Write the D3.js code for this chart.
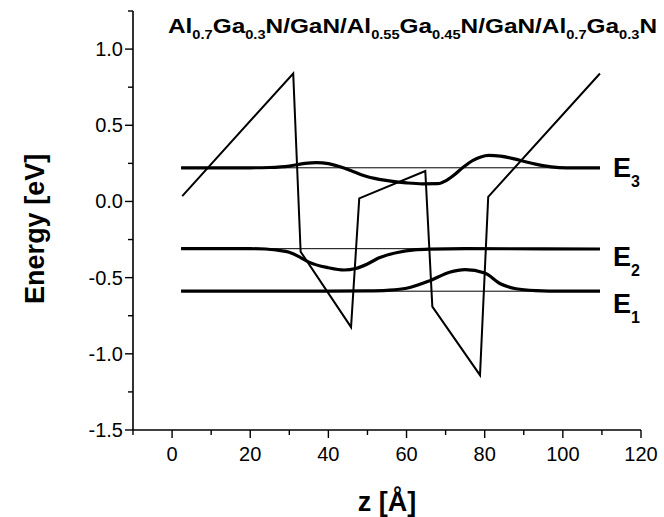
<!DOCTYPE html>
<html>
<head>
<meta charset="utf-8">
<script src="https://cdn.jsdelivr.net/npm/d3@7"></script>
<style>
  body { margin: 0; background: #fff; }
  text { font-family: "Liberation Sans", Arial, sans-serif; }
</style>
</head>
<body>
<div id="chart"></div>
<script>
// conduction band profile (z in Angstrom, energy in eV)
var bandZ = [2.6, 31.0, 32.9, 45.8, 47.9, 64.8, 66.6, 78.8, 80.9, 109.5];
var bandE = [0.035, 0.84, -0.33, -0.825, 0.02, 0.20, -0.69, -1.14, 0.03, 0.84];

// subband energies (thin lines)
var levelNames = ["3", "2", "1"];
var levelE = [0.221, -0.31, -0.589];
var levelRange = [2.3, 109.5];

// wavefunctions drawn on top of the levels
var psi3Z = [2.3, 20, 25, 30, 34, 37, 40, 43, 46, 49, 53, 56, 60, 64, 68, 70, 72, 74.5, 77, 79, 81, 84, 89, 93, 97, 101, 109.5];
var psi3E = [0.221, 0.221, 0.223, 0.232, 0.25, 0.255, 0.248, 0.228, 0.2, 0.17, 0.145, 0.133, 0.122, 0.116, 0.117, 0.135, 0.17, 0.225, 0.27, 0.292, 0.302, 0.298, 0.27, 0.245, 0.227, 0.221, 0.221];
var psi2Z = [2.3, 20, 24, 27, 30, 33, 35, 40, 44, 47, 50, 53, 58, 62, 66, 75, 109.5];
var psi2E = [-0.31, -0.31, -0.312, -0.32, -0.333, -0.37, -0.398, -0.435, -0.45, -0.44, -0.41, -0.37, -0.333, -0.318, -0.313, -0.31, -0.312];
var psi1Z = [2.3, 40, 50, 55, 60, 66, 71, 75, 80, 84, 88, 93, 100, 109.5];
var psi1E = [-0.589, -0.589, -0.587, -0.583, -0.57, -0.52, -0.465, -0.448, -0.47, -0.54, -0.573, -0.585, -0.589, -0.589];

var xTicks = [0, 20, 40, 60, 80, 100, 120];
var yTicks = [-1.5, -1.0, -0.5, 0.0, 0.5, 1.0];

var width = 664, height = 517;

var svg = d3.select("#chart").append("svg")
    .attr("width", width)
    .attr("height", height);

var x = d3.scaleLinear().domain([-10, 120]).range([133, 641]);
var y = d3.scaleLinear().domain([-1.5, 1.25]).range([430, 11]);

// axes
var xAxis = svg.append("g").attr("transform", "translate(0," + y(-1.5) + ")");
xAxis.append("line").attr("x1", x(-10)).attr("x2", x(120)).attr("stroke", "#000").attr("stroke-width", 1.6);
xAxis.selectAll(".minor").data(d3.range(-10, 121, 10)).enter().append("line")
    .attr("x1", d => x(d)).attr("x2", d => x(d))
    .attr("y1", 0).attr("y2", d => (d % 20 === 0) ? 8 : 5)
    .attr("stroke", "#000").attr("stroke-width", 1.4);
xAxis.selectAll(".lbl").data(xTicks).enter().append("text")
    .attr("x", d => x(d)).attr("y", 31)
    .attr("text-anchor", "middle")
    .style("font-size", "20px")
    .text(d => d);

var yAxis = svg.append("g").attr("transform", "translate(" + x(-10) + ",0)");
yAxis.append("line").attr("y1", y(-1.5)).attr("y2", y(1.25)).attr("stroke", "#000").attr("stroke-width", 1.6);
yAxis.selectAll(".minor").data(d3.range(-1.5, 1.26, 0.25)).enter().append("line")
    .attr("y1", d => y(d)).attr("y2", d => y(d))
    .attr("x1", 0).attr("x2", d => (Math.abs(d * 2 - Math.round(d * 2)) < 1e-6) ? -8 : -5)
    .attr("stroke", "#000").attr("stroke-width", 1.4);
yAxis.selectAll(".lbl").data(yTicks).enter().append("text")
    .attr("x", -10).attr("y", d => y(d) + 7)
    .attr("text-anchor", "end")
    .style("font-size", "20px")
    .text(d => d3.format(".1f")(d).replace("\u2212", "-"));

// axis titles
svg.append("text")
    .attr("x", (x(-10) + x(120)) / 2).attr("y", 511)
    .attr("text-anchor", "middle")
    .style("font-size", "27px").style("font-weight", "bold")
    .text("z [\u00c5]");
svg.append("text")
    .attr("transform", "translate(44," + y(-0.18) + ") rotate(-90)")
    .attr("text-anchor", "middle")
    .style("font-size", "27px").style("font-weight", "bold")
    .text("Energy [eV]");

// title with subscripts
var titleParts = [["Al", false], ["0.7", true], ["Ga", false], ["0.3", true], ["N/GaN/Al", false], ["0.55", true],
                  ["Ga", false], ["0.45", true], ["N/GaN/Al", false], ["0.7", true], ["Ga", false], ["0.3", true], ["N", false]];
var title = svg.append("text")
    .attr("x", 168).attr("y", 33)
    .style("font-size", "20px").style("font-weight", "bold")
    .attr("textLength", 489).attr("lengthAdjust", "spacingAndGlyphs");
titleParts.forEach(function(p, i) {
    var t = title.append("tspan").text(p[0]);
    if (p[1]) t.style("font-size", "12px").attr("dy", 6);
    else if (i > 0) t.attr("dy", -6);
});

// level lines
svg.selectAll(".level").data(levelE).enter().append("line")
    .attr("x1", x(levelRange[0])).attr("x2", x(levelRange[1]))
    .attr("y1", d => y(d)).attr("y2", d => y(d))
    .attr("stroke", "#000").attr("stroke-width", 1);

// band profile
var band = bandZ.map((z, i) => [z, bandE[i]]);
svg.append("path")
    .attr("d", d3.line().x(d => x(d[0])).y(d => y(d[1]))(band))
    .attr("fill", "none").attr("stroke", "#000").attr("stroke-width", 2);

// wavefunctions
var psiLine = d3.line().x(d => x(d[0])).y(d => y(d[1])).curve(d3.curveMonotoneX);
[[psi3Z, psi3E], [psi2Z, psi2E], [psi1Z, psi1E]].forEach(function(s) {
    svg.append("path")
        .attr("d", psiLine(s[0].map((z, i) => [z, s[1][i]])))
        .attr("fill", "none").attr("stroke", "#000").attr("stroke-width", 3.2);
});

// level labels
var labelDy = [9, 17, 22];
levelE.forEach(function(e, i) {
    var t = svg.append("text")
        .attr("x", x(levelRange[1]) + 13).attr("y", y(e) + labelDy[i])
        .style("font-size", "27px").style("font-weight", "bold");
    t.append("tspan").text("E");
    t.append("tspan").attr("dy", 10).style("font-size", "16px").text(levelNames[i]);
});
</script>
</body>
</html>
